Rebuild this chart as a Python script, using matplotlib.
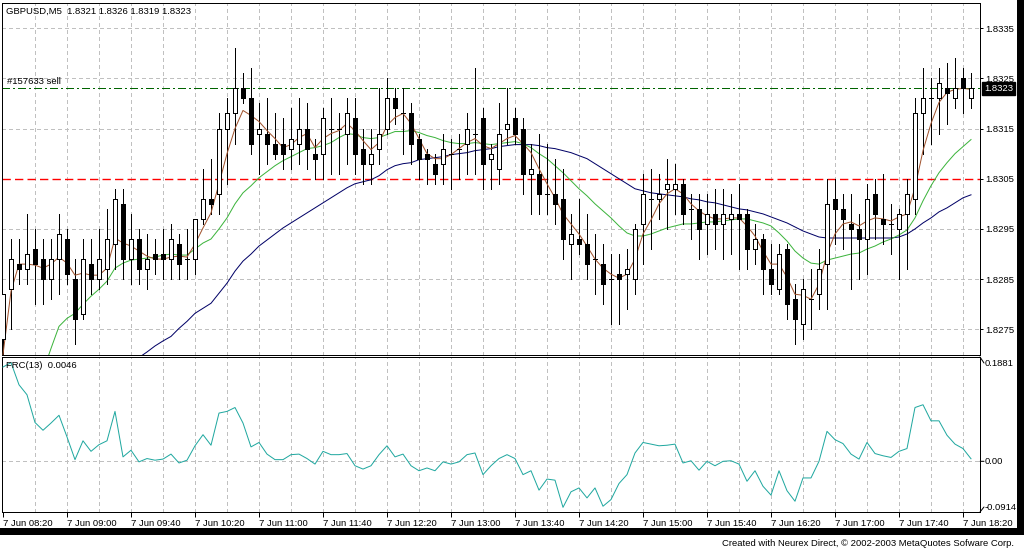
import numpy as np
import matplotlib
matplotlib.use("Agg")
import matplotlib.pyplot as plt
from matplotlib.patches import Rectangle

plt.rcParams['font.family'] = ['Liberation Sans', 'DejaVu Sans']

# GBPUSD M5, 7 Jun 08:20 .. 18:25
opens = [1.8273, 1.8283, 1.8288, 1.8287, 1.8291, 1.8289, 1.8285, 1.8289, 1.8293, 1.8285,
         1.8278, 1.8288, 1.8285, 1.8287, 1.8292, 1.8300, 1.8289, 1.8293, 1.8287, 1.8290,
         1.8290, 1.8289, 1.8292, 1.8289, 1.8289, 1.8297, 1.8301, 1.8302, 1.8315, 1.8318,
         1.8323, 1.8321, 1.8314, 1.8314, 1.8312, 1.8312, 1.8311, 1.8312, 1.8315, 1.8310,
         1.8310, 1.8315, 1.8315, 1.8314, 1.8317, 1.8311, 1.8308, 1.8311, 1.8315, 1.8321,
         1.8318, 1.8318, 1.8313, 1.8310, 1.8308, 1.8308, 1.8310, 1.8311, 1.8312, 1.8314,
         1.8317, 1.8309, 1.8307, 1.8315, 1.8317, 1.8315, 1.8306, 1.8306, 1.8302, 1.8302,
         1.8301, 1.8292, 1.8293, 1.8292, 1.8289, 1.8288, 1.8285, 1.8286, 1.8286, 1.8285,
         1.8296, 1.8301, 1.8301, 1.8303, 1.8303, 1.8304, 1.8299, 1.8299, 1.8296, 1.8298,
         1.8296, 1.8297, 1.8298, 1.8298, 1.8291, 1.8293, 1.8287, 1.8283, 1.8291, 1.8281,
         1.8276, 1.8281, 1.8282, 1.8288, 1.8301, 1.8299, 1.8296, 1.8295, 1.8293, 1.8302,
         1.8297, 1.8296, 1.8295, 1.8298, 1.8301, 1.8318, 1.8321, 1.8321, 1.8323, 1.8321,
         1.8325, 1.8321]
highs = [1.8282, 1.8293, 1.8293, 1.8298, 1.8295, 1.8293, 1.8293, 1.8298, 1.8295, 1.8289,
         1.8293, 1.8293, 1.8295, 1.8299, 1.8303, 1.8303, 1.8298, 1.8295, 1.8294, 1.8293,
         1.8295, 1.8296, 1.8294, 1.8295, 1.8297, 1.8307, 1.8309, 1.8318, 1.8321, 1.8331,
         1.8326, 1.8327, 1.8320, 1.8321, 1.8318, 1.8317, 1.8319, 1.8321, 1.8320, 1.8313,
         1.8319, 1.8321, 1.8318, 1.8321, 1.8321, 1.8315, 1.8315, 1.8323, 1.8325, 1.8323,
         1.8323, 1.8320, 1.8314, 1.8311, 1.8310, 1.8314, 1.8313, 1.8314, 1.8318, 1.8327,
         1.8319, 1.8312, 1.8320, 1.8323, 1.8319, 1.8317, 1.8312, 1.8314, 1.8312, 1.8309,
         1.8307, 1.8298, 1.8301, 1.8298, 1.8294, 1.8292, 1.8290, 1.8290, 1.8291, 1.8296,
         1.8306, 1.8307, 1.8306, 1.8309, 1.8308, 1.8305, 1.8302, 1.8302, 1.8302, 1.8303,
         1.8303, 1.8302, 1.8304, 1.8299, 1.8296, 1.8294, 1.8292, 1.8292, 1.8292, 1.8284,
         1.8285, 1.8287, 1.8291, 1.8305, 1.8305, 1.8302, 1.8302, 1.8298, 1.8304, 1.8305,
         1.8306, 1.8300, 1.8299, 1.8305, 1.8321, 1.8327, 1.8325, 1.8327, 1.8328, 1.8329,
         1.8327, 1.8326]
lows = [1.8270, 1.8275, 1.8284, 1.8284, 1.8280, 1.8280, 1.8281, 1.8282, 1.8284, 1.8272,
        1.8277, 1.8282, 1.8283, 1.8284, 1.8287, 1.8285, 1.8284, 1.8284, 1.8283, 1.8286,
        1.8285, 1.8285, 1.8285, 1.8285, 1.8286, 1.8296, 1.8298, 1.8298, 1.8304, 1.8312,
        1.8320, 1.8310, 1.8306, 1.8308, 1.8309, 1.8307, 1.8307, 1.8308, 1.8307, 1.8305,
        1.8305, 1.8306, 1.8306, 1.8308, 1.8306, 1.8304, 1.8304, 1.8308, 1.8314, 1.8316,
        1.8310, 1.8308, 1.8305, 1.8304, 1.8304, 1.8304, 1.8303, 1.8305, 1.8306, 1.8306,
        1.8303, 1.8303, 1.8304, 1.8312, 1.8312, 1.8302, 1.8298, 1.8298, 1.8298, 1.8296,
        1.8289, 1.8285, 1.8290, 1.8285, 1.8282, 1.8280, 1.8276, 1.8276, 1.8279, 1.8282,
        1.8288, 1.8291, 1.8297, 1.8295, 1.8298, 1.8296, 1.8293, 1.8289, 1.8290, 1.8291,
        1.8289, 1.8290, 1.8287, 1.8287, 1.8288, 1.8282, 1.8282, 1.8282, 1.8277, 1.8272,
        1.8273, 1.8275, 1.8279, 1.8279, 1.8292, 1.8291, 1.8283, 1.8285, 1.8286, 1.8293,
        1.8292, 1.8290, 1.8285, 1.8287, 1.8298, 1.8310, 1.8312, 1.8314, 1.8316, 1.8319,
        1.8318, 1.8319]
closes = [1.8282, 1.8289, 1.8287, 1.8290, 1.8288, 1.8285, 1.8289, 1.8294, 1.8286, 1.8277,
          1.8289, 1.8285, 1.8289, 1.8293, 1.8301, 1.8289, 1.8293, 1.8287, 1.8289, 1.8289,
          1.8289, 1.8293, 1.8288, 1.8289, 1.8297, 1.8301, 1.8300, 1.8315, 1.8318, 1.8323,
          1.8321, 1.8312, 1.8315, 1.8312, 1.8310, 1.8310, 1.8313, 1.8315, 1.8311, 1.8309,
          1.8317, 1.8315, 1.8315, 1.8318, 1.8310, 1.8308, 1.8310, 1.8314, 1.8321, 1.8319,
          1.8318, 1.8312, 1.8309, 1.8309, 1.8306, 1.8311, 1.8310, 1.8311, 1.8315, 1.8314,
          1.8308, 1.8310, 1.8314, 1.8316, 1.8314, 1.8306, 1.8307, 1.8302, 1.8302, 1.8300,
          1.8293, 1.8294, 1.8292, 1.8288, 1.8289, 1.8284, 1.8285, 1.8285, 1.8287, 1.8295,
          1.8302, 1.8301, 1.8302, 1.8304, 1.8304, 1.8298, 1.8299, 1.8295, 1.8298, 1.8296,
          1.8298, 1.8298, 1.8297, 1.8291, 1.8293, 1.8287, 1.8284, 1.8290, 1.8280, 1.8277,
          1.8283, 1.8281, 1.8287, 1.8300, 1.8299, 1.8297, 1.8295, 1.8293, 1.8301, 1.8298,
          1.8296, 1.8296, 1.8298, 1.8302, 1.8318, 1.8321, 1.8321, 1.8324, 1.8322, 1.8323,
          1.8323, 1.8323]

# moving averages as drawn (fast / medium / slow), first bar index of each
ma_fast_start = 0
ma_fast = [1.82700, 1.82826, 1.82880, 1.82880, 1.82878, 1.82872, 1.82880, 1.82894, 1.82882, 1.82858,
           1.82862, 1.82858, 1.82858, 1.82872, 1.82932, 1.82922, 1.82916, 1.82906, 1.82896, 1.82890,
           1.82890, 1.82894, 1.82896, 1.82894, 1.82920, 1.82952, 1.82982, 1.83040, 1.83100, 1.83150,
           1.83186, 1.83176, 1.83164, 1.83146, 1.83130, 1.83112, 1.83118, 1.83132, 1.83140, 1.83112,
           1.83130, 1.83140, 1.83146, 1.83160, 1.83146, 1.83126, 1.83108, 1.83122, 1.83156, 1.83172,
           1.83180, 1.83160, 1.83130, 1.83100, 1.83090, 1.83090, 1.83098, 1.83110, 1.83122, 1.83130,
           1.83116, 1.83110, 1.83120, 1.83130, 1.83136, 1.83120, 1.83102, 1.83070, 1.83040, 1.83012,
           1.82980, 1.82960, 1.82940, 1.82916, 1.82890, 1.82872, 1.82860, 1.82852, 1.82860, 1.82890,
           1.82940, 1.82968, 1.83000, 1.83020, 1.83030, 1.83020, 1.83000, 1.82986, 1.82976, 1.82970,
           1.82970, 1.82972, 1.82972, 1.82956, 1.82936, 1.82906, 1.82880, 1.82880, 1.82854, 1.82820,
           1.82818, 1.82810, 1.82840, 1.82900, 1.82940, 1.82960, 1.82964, 1.82956, 1.82966, 1.82972,
           1.82970, 1.82966, 1.82974, 1.82980, 1.83032, 1.83106, 1.83160, 1.83202, 1.83222, 1.83228,
           1.83230, 1.83228]
ma_mid_start = 5
ma_mid = [1.82666, 1.82712, 1.82756, 1.82772, 1.82782,
          1.82800, 1.82816, 1.82830, 1.82846, 1.82872, 1.82882, 1.82888, 1.82890, 1.82892, 1.82894,
          1.82898, 1.82900, 1.82898, 1.82898, 1.82910, 1.82922, 1.82930, 1.82950, 1.82972, 1.83000,
          1.83022, 1.83036, 1.83052, 1.83064, 1.83076, 1.83086, 1.83094, 1.83102, 1.83110, 1.83112,
          1.83116, 1.83122, 1.83132, 1.83140, 1.83138, 1.83132, 1.83130, 1.83132, 1.83138, 1.83144,
          1.83144, 1.83146, 1.83142, 1.83136, 1.83132, 1.83126, 1.83122, 1.83120, 1.83120, 1.83122,
          1.83120, 1.83118, 1.83120, 1.83122, 1.83124, 1.83120, 1.83112, 1.83100, 1.83090, 1.83076,
          1.83062, 1.83046, 1.83030, 1.83016, 1.83000, 1.82986, 1.82972, 1.82956, 1.82942, 1.82936,
          1.82936, 1.82940, 1.82946, 1.82952, 1.82956, 1.82960, 1.82960, 1.82962, 1.82964, 1.82964,
          1.82966, 1.82968, 1.82970, 1.82970, 1.82966, 1.82962, 1.82956, 1.82942, 1.82926, 1.82906,
          1.82892, 1.82882, 1.82880, 1.82888, 1.82892, 1.82896, 1.82900, 1.82902, 1.82910, 1.82916,
          1.82924, 1.82930, 1.82938, 1.82948, 1.82972, 1.83006, 1.83036, 1.83062, 1.83082, 1.83100,
          1.83114, 1.83128]
ma_slow_start = 17
ma_slow = [1.82694, 1.82705, 1.82717, 1.82727, 1.82736, 1.82752, 1.82766, 1.82782, 1.82792, 1.82802,
           1.82822, 1.82842, 1.82866, 1.82886, 1.82900, 1.82916, 1.82928, 1.82940, 1.82952, 1.82962,
           1.82972, 1.82982, 1.82992, 1.83002, 1.83012, 1.83022, 1.83032, 1.83040, 1.83044, 1.83048,
           1.83056, 1.83068, 1.83076, 1.83080, 1.83082, 1.83088, 1.83090, 1.83092, 1.83094, 1.83098,
           1.83100, 1.83102, 1.83106, 1.83108, 1.83110, 1.83114, 1.83116, 1.83118, 1.83118, 1.83118,
           1.83116, 1.83112, 1.83110, 1.83106, 1.83102, 1.83096, 1.83090, 1.83080, 1.83070, 1.83060,
           1.83050, 1.83040, 1.83030, 1.83026, 1.83022, 1.83020, 1.83018, 1.83016, 1.83014, 1.83010,
           1.83008, 1.83004, 1.83002, 1.82998, 1.82994, 1.82990, 1.82988, 1.82984, 1.82980, 1.82974,
           1.82968, 1.82962, 1.82954, 1.82946, 1.82940, 1.82934, 1.82932, 1.82932, 1.82932, 1.82932,
           1.82932, 1.82932, 1.82932, 1.82932, 1.82932, 1.82934, 1.82940, 1.82950, 1.82962, 1.82972,
           1.82984, 1.82992, 1.83002, 1.83012, 1.83018]

# FRC(13) indicator
frc = [0.170, 0.178, 0.138, 0.120, 0.070, 0.056, 0.069, 0.083, 0.044, 0.003,
       0.037, 0.018, 0.030, 0.037, 0.090, 0.008, 0.020, -0.001, 0.005, 0.002,
       0.004, 0.013, -0.003, 0.002, 0.028, 0.048, 0.029, 0.087, 0.090, 0.097,
       0.069, 0.026, 0.034, 0.013, 0.003, 0.003, 0.012, 0.013, 0.005, -0.005,
       0.018, 0.012, 0.012, 0.014, -0.008, -0.014, -0.008, 0.012, 0.028, 0.008,
       0.013, -0.008, -0.017, -0.012, -0.017, -0.001, -0.005, -0.001, 0.012, 0.015,
       -0.024, -0.008, 0.005, 0.012, 0.005, -0.024, -0.017, -0.052, -0.032, -0.034,
       -0.083, -0.055, -0.048, -0.066, -0.048, -0.081, -0.069, -0.040, -0.024, 0.015,
       0.034, 0.031, 0.028, 0.029, 0.031, -0.003, 0.001, -0.016, 0.000, -0.008,
       0.000, 0.001, -0.005, -0.036, -0.017, -0.045, -0.061, -0.017, -0.053, -0.072,
       -0.030, -0.030, 0.000, 0.054, 0.039, 0.032, 0.013, 0.004, 0.034, 0.014,
       0.010, 0.007, 0.018, 0.023, 0.097, 0.102, 0.073, 0.073, 0.047, 0.031,
       0.023, 0.0046]

time_labels = ["7 Jun 08:20", "7 Jun 09:00", "7 Jun 09:40", "7 Jun 10:20", "7 Jun 11:00",
               "7 Jun 11:40", "7 Jun 12:20", "7 Jun 13:00", "7 Jun 13:40", "7 Jun 14:20",
               "7 Jun 15:00", "7 Jun 15:40", "7 Jun 16:20", "7 Jun 17:00", "7 Jun 17:40",
               "7 Jun 18:20"]
price_levels = [1.8275, 1.8285, 1.8295, 1.8305, 1.8315, 1.8325, 1.8335]
order_price = 1.8323
stop_price = 1.8305
frc_min, frc_max = -0.0914, 0.1881

W, H = 1024, 550
PX = 0.72  # 1 px in points at dpi 100
GRID = '#c0c0c0'

fig = plt.figure(figsize=(W / 100, H / 100), dpi=100, facecolor='white')
ax = fig.add_axes([2 / W, 1 - 355 / H, 978 / W, 352 / H])
ax2 = fig.add_axes([2 / W, 1 - 512 / H, 978 / W, 155 / H])

n = len(opens)
xs = np.arange(n)
o = np.array(opens); h = np.array(highs); l = np.array(lows); c = np.array(closes)

for a in (ax, ax2):
    a.set_xlim(-0.125, 122.125)
    for s in a.spines.values():
        s.set_linewidth(PX)
        s.set_color('black')
    for k in range(4, 121, 4):
        a.axvline(k, color=GRID, lw=PX, ls=(0, (3, 3)), zorder=0, antialiased=False)

ax.set_ylim(1.82699, 1.83400)
for p in price_levels:
    if p != stop_price:
        ax.axhline(p, color=GRID, lw=PX, ls=(0, (3, 3)), zorder=0, antialiased=False)

# order / stop lines
ax.axhline(order_price, color='#006400', lw=PX, ls=(0, (8, 3, 2, 3)), zorder=1, antialiased=False)
ax.axhline(stop_price, color='#ff0000', lw=1.0, ls=(0, (6, 3)), zorder=1.1)

# moving averages
ax.plot(np.arange(ma_slow_start, ma_slow_start + len(ma_slow)), ma_slow, color='#000066', lw=PX, zorder=2)
ax.plot(np.arange(ma_mid_start, ma_mid_start + len(ma_mid)), ma_mid, color='#3cb43c', lw=PX, zorder=2)
ax.plot(np.arange(ma_fast_start, ma_fast_start + len(ma_fast)), ma_fast, color='#a0522d', lw=PX, zorder=4)

# candles
ax.vlines(xs, l, h, color='black', lw=PX, zorder=3, antialiased=False)
up = c > o
dn = c < o
eq = c == o
bw = 0.5
ax.bar(xs[up], (c - o)[up], bottom=o[up], width=bw, facecolor='white', edgecolor='black',
       linewidth=PX, zorder=5, antialiased=False)
ax.bar(xs[dn], (o - c)[dn], bottom=c[dn], width=bw, facecolor='black', edgecolor='black',
       linewidth=PX, zorder=5, antialiased=False)
ax.hlines(o[eq], xs[eq] - bw / 2, xs[eq] + bw / 2, color='black', lw=PX, zorder=5, antialiased=False)

ax.set_xticks([])
ax.yaxis.tick_right()
ax.set_yticks(price_levels)
ax.set_yticklabels([f"{p:.4f}" for p in price_levels])
ax.tick_params(axis='y', direction='out', length=2.5, width=PX, pad=1.5, labelsize=6.8)

ax.annotate("GBPUSD,M5  %.4f %.4f %.4f %.4f" % (opens[-1], highs[-1], lows[-1], closes[-1]),
            xy=(0, 1), xycoords='axes fraction', xytext=(4, -8), textcoords='offset pixels',
            va='center', ha='left', fontsize=6.8)
ax.annotate("#157633 sell", xy=(0, order_price), xycoords=('axes fraction', 'data'),
            xytext=(5, 2), textcoords='offset pixels', va='bottom', ha='left', fontsize=6.8)
ax.annotate(f"{closes[-1]:.4f}", xy=(1, closes[-1]), xycoords=('axes fraction', 'data'),
            xytext=(4, 0), textcoords='offset pixels', va='center', ha='left', fontsize=6.8,
            color='white', annotation_clip=False,
            bbox=dict(boxstyle='square,pad=0.2', fc='black', ec='black'))

# lower pane
ax2.set_ylim(frc_min, frc_max)
ax2.axhline(0, color=GRID, lw=PX, ls=(0, (3, 3)), zorder=0, antialiased=False)
ax2.plot(xs, frc, color='#20a8a0', lw=PX, zorder=3)
ax2.set_yticks([])
ax2.set_xticks(range(0, 121, 8))
ax2.set_xticklabels(time_labels)
ax2.tick_params(axis='x', direction='out', length=3.5, width=PX, pad=1.5, labelsize=6.8)
for lbl in ax2.get_xticklabels():
    lbl.set_ha('left')

for val, dy, txt in [(frc_max, -6, "0.1881"), (0.0, 0, "0.00"), (frc_min, 5, "-0.0914")]:
    ax2.annotate(txt, xy=(1, val), xycoords=('axes fraction', 'data'), xytext=(5, dy),
                 textcoords='offset pixels', va='center', ha='left', fontsize=6.8, annotation_clip=False)
    ax2.annotate('', xy=(1, val), xycoords=('axes fraction', 'data'), xytext=(4, dy),
                 textcoords='offset pixels', annotation_clip=False,
                 arrowprops=dict(arrowstyle='-', lw=PX, color='black', shrinkA=0, shrinkB=0,
                                 relpos=(0, 0.5)))

ax2.annotate("FRC(13)  %.4f" % frc[-1], xy=(0, 1), xycoords='axes fraction', xytext=(4, -9),
             textcoords='offset pixels', va='center', ha='left', fontsize=6.8)

# window frame
fig.patches.append(Rectangle((0, 1 - 535 / H), 1, 7 / H, transform=fig.transFigure,
                             facecolor='black', edgecolor='none'))
fig.patches.append(Rectangle((1017 / W, 1 - 535 / H), 7 / W, 535 / H, transform=fig.transFigure,
                             facecolor='black', edgecolor='none'))
fig.text(1014 / W, 1 - 543 / H, "Created with Neurex Direct, \u00a9 2002-2003 MetaQuotes Sofware Corp.",
         ha='right', va='center', fontsize=6.8)

fig.savefig("out.png", dpi=100, facecolor='white')
